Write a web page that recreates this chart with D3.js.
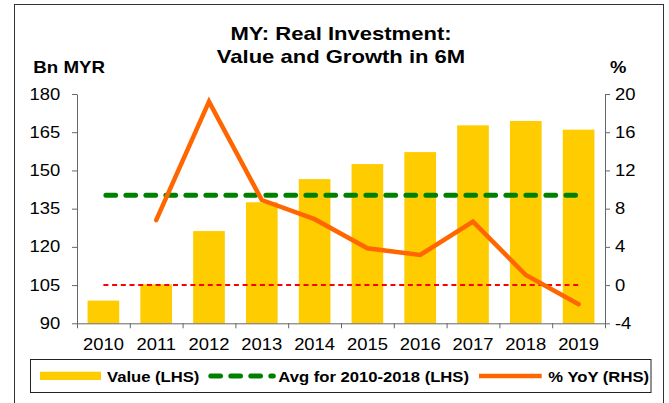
<!DOCTYPE html>
<html>
<head>
<meta charset="utf-8">
<script src="https://cdn.jsdelivr.net/npm/d3@7"></script>
<style>
  body { margin: 0; background: #fff; }
  text { font-family: "Liberation Sans", Arial, sans-serif; fill: #000; }
</style>
</head>
<body>
<div id="chart"></div>
<script>
// data
const years = ['2010', '2011', '2012', '2013', '2014', '2015', '2016', '2017', '2018', '2019']
const valueBn = [98.9, 105.3, 126.2, 137.5, 146.6, 152.5, 157.2, 167.7, 169.4, 166.0]
const yoyPct = [null, 6.8, 19.2, 8.9, 6.9, 3.85, 3.15, 6.65, 1.05, -2.0]
const avg2010to2018 = 140.3
const leftTicks = [90, 105, 120, 135, 150, 165, 180]
const rightTicks = [-4, 0, 4, 8, 12, 16, 20]
const titleLines = ['MY: Real Investment:', 'Value and Growth in 6M']
const legendLabels = ['Value (LHS)', 'Avg for 2010-2018 (LHS)', '% YoY (RHS)']

const cfg = {
    w: 669,
    h: 403,
    margin: { top: 94, right: 64, bottom: 79.7, left: 77 },
    barColor: '#FFCC00',
    avgColor: '#008000',
    zeroColor: '#FF0000',
    lineColor: '#FF6600',
    axisColor: '#666',
    sx: 1.15            // the text in the picture is a bit wide
}

const width = cfg.w - cfg.margin.left - cfg.margin.right
const height = cfg.h - cfg.margin.top - cfg.margin.bottom

const root = d3.select('#chart')
    .append('svg')
    .attr('width', cfg.w)
    .attr('height', cfg.h)

// outer frame
root.append('rect')
    .attr('x', 14.5).attr('y', 4.5)
    .attr('width', 649).attr('height', 420)
    .attr('fill', 'none')
    .attr('stroke', '#333')

// stretched text helper
const label = (sel, str, x, y, size, weight, anchor, sx) => sel.append('text')
    .attr('transform', `translate(${x},${y}) scale(${sx},1)`)
    .attr('text-anchor', anchor)
    .style('font-size', `${size}px`)
    .style('font-weight', weight)
    .text(str)

titleLines.forEach((t, i) => label(root, t, 341, 40 + i * 23.3, 19, 'bold', 'middle', 1.16))
label(root, 'Bn MYR', 33.3, 73.3, 16, 'bold', 'start', 1.17)
label(root, '%', 610, 73.3, 16, 'bold', 'start', 1.15)

const svg = root.append('g')
    .attr('transform', `translate(${cfg.margin.left}, ${cfg.margin.top})`)

const x = d3.scaleBand().domain(years).range([0, width]).paddingInner(0.4).paddingOuter(0.2)
const xEdges = d3.scaleLinear().domain([0, years.length]).range([0, width])
const yL = d3.scaleLinear().domain([90, 180]).range([height, 0])
const yR = d3.scaleLinear().domain([-4, 20]).range([height, 0])

// bars
svg.selectAll('.bar')
    .data(valueBn).enter()
    .append('rect')
    .attr('class', 'bar')
    .attr('x', (d, i) => x(years[i]))
    .attr('y', d => yL(d))
    .attr('width', x.bandwidth())
    .attr('height', d => height - yL(d))
    .attr('fill', cfg.barColor)

const cx = i => x(years[i]) + x.bandwidth() / 2
const first = 0, last = years.length - 1

// zero line (RHS)
svg.append('line')
    .attr('x1', cx(first)).attr('x2', cx(last))
    .attr('y1', yR(0)).attr('y2', yR(0))
    .attr('stroke', cfg.zeroColor)
    .attr('stroke-width', 2)
    .attr('stroke-dasharray', '5,3.7')

// average line (LHS)
svg.append('line')
    .attr('x1', cx(first) + 2.5).attr('x2', cx(last) + 2.5)
    .attr('y1', yL(avg2010to2018)).attr('y2', yL(avg2010to2018))
    .attr('stroke', cfg.avgColor)
    .attr('stroke-width', 5)
    .attr('stroke-linecap', 'round')
    .attr('stroke-dasharray', '9.7,10.3')

// yoy line
const line = d3.line()
    .defined(d => d !== null)
    .x((d, i) => cx(i))
    .y(d => yR(d))

svg.append('path')
    .datum(yoyPct)
    .attr('fill', 'none')
    .attr('stroke', cfg.lineColor)
    .attr('stroke-width', 4.5)
    .attr('stroke-linejoin', 'miter')
    .attr('stroke-linecap', 'round')
    .attr('d', line)

// axes
const styleAxis = (g, sx) => {
    g.selectAll('path, line').attr('stroke', cfg.axisColor)
    g.selectAll('text')
        .style('font-size', '16px')
        .style('font-family', '"Liberation Sans", Arial, sans-serif')
        .attr('fill', '#000')
        .each(function () {
            const t = d3.select(this)
            t.attr('x', (+t.attr('x') || 0) / sx).attr('transform', `scale(${sx},1)`)
        })
}

svg.append('g')
    .call(d3.axisLeft(yL).tickValues(leftTicks).tickSize(5).tickSizeOuter(0).tickPadding(11.7))
    .call(g => styleAxis(g, cfg.sx))

svg.append('g')
    .attr('transform', `translate(${width}, 0)`)
    .call(d3.axisRight(yR).tickValues(rightTicks).tickSize(5).tickSizeOuter(0).tickPadding(5)
        .tickFormat(d => String(d)))
    .call(g => styleAxis(g, cfg.sx))

svg.append('g')
    .attr('transform', `translate(0, ${height})`)
    .call(d3.axisBottom(xEdges).tickValues(d3.range(years.length + 1)).tickSize(5).tickSizeOuter(0).tickFormat(''))
    .call(g => styleAxis(g, cfg.sx))

svg.append('g')
    .attr('transform', `translate(0, ${height})`)
    .call(d3.axisBottom(x).tickSize(0).tickPadding(15.7))
    .call(g => g.select('.domain').remove())
    .call(g => styleAxis(g, cfg.sx))

// legend
const legend = root.append('g')
legend.append('rect')
    .attr('x', 30.5).attr('y', 359.5)
    .attr('width', 620.5).attr('height', 33)
    .attr('fill', 'none')
    .attr('stroke', '#222')

const ly = 376
legend.append('rect')
    .attr('x', 40).attr('y', ly - 4.3)
    .attr('width', 61).attr('height', 8.3)
    .attr('fill', cfg.barColor)
label(legend, legendLabels[0], 107, 381.5, 15, 'bold', 'start', 1.11)

legend.append('line')
    .attr('x1', 210.8).attr('x2', 273.3)
    .attr('y1', ly).attr('y2', ly)
    .attr('stroke', cfg.avgColor)
    .attr('stroke-width', 5)
    .attr('stroke-linecap', 'round')
    .attr('stroke-dasharray', '9.7,10.3')
label(legend, legendLabels[1], 278.3, 381.5, 15, 'bold', 'start', 1.11)

legend.append('line')
    .attr('x1', 479).attr('x2', 541.7)
    .attr('y1', ly).attr('y2', ly)
    .attr('stroke', cfg.lineColor)
    .attr('stroke-width', 4.5)
label(legend, legendLabels[2], 548.3, 381.5, 15, 'bold', 'start', 1.11)
</script>
</body>
</html>
